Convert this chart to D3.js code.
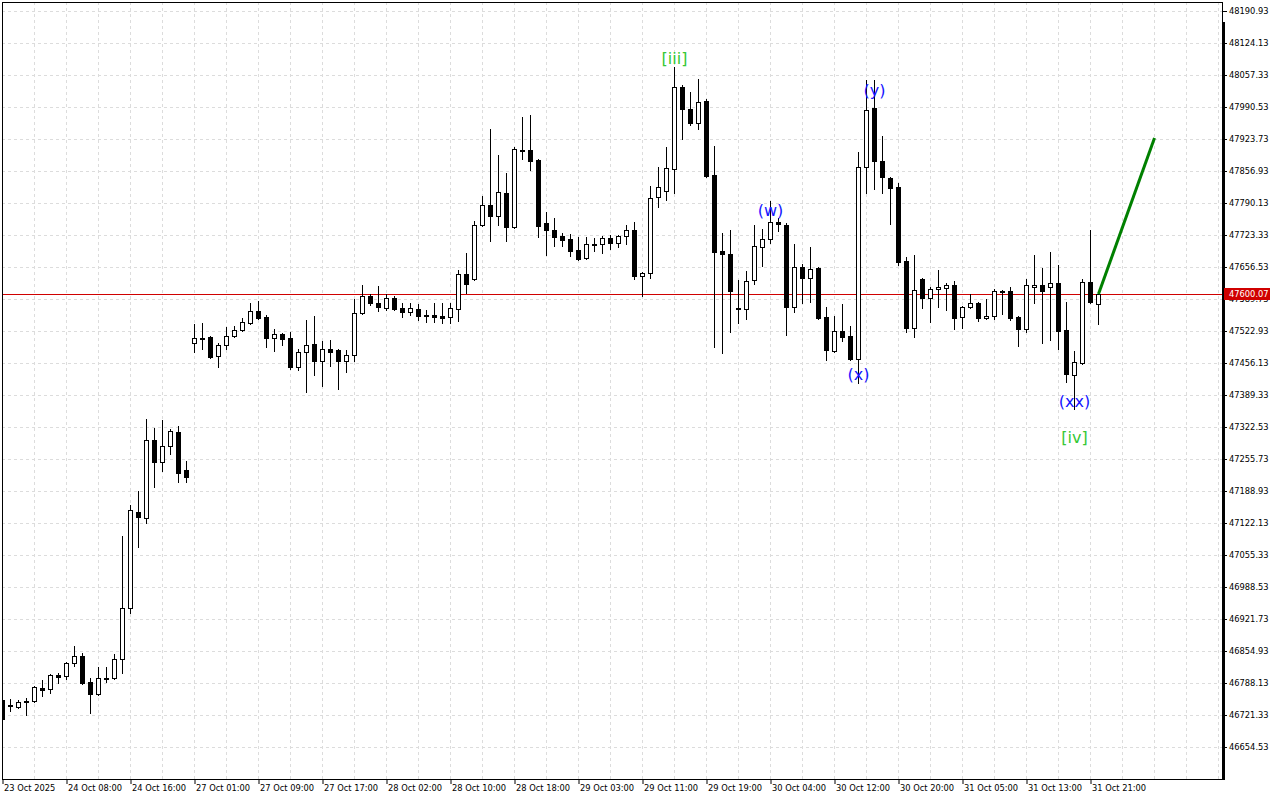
<!DOCTYPE html>
<html lang="en">
<head>
<meta charset="UTF-8">
<title>US30 H1 - wave count</title>
<script src="https://d3js.org/d3.v7.min.js"></script>
<style>
  body { margin: 0; background: #fff; }
  svg { display: block; }
  .axis text { font-family: "DejaVu Sans", sans-serif; font-size: 8.3px; fill: #000; }
  .axis line { stroke: #000; }
</style>
</head>
<body>
<svg width="1280" height="800"></svg>
<script>
// hourly bars
var opens = [
  46752.7, 46742.2, 46738.0, 46750.6, 46750.6, 46777.7, 46775.6, 46804.8, 46802.8, 46829.9,
  46844.5, 46790.2, 46765.2, 46798.6, 46798.6, 46838.2, 46944.7, 47145.1, 47132.6, 47295.4,
  47249.5, 47282.9, 47312.1, 47232.8, 47497.9, 47508.3, 47510.4, 47470.8, 47493.7, 47512.5,
  47525.0, 47539.6, 47564.7, 47552.2, 47508.3, 47516.7, 47508.3, 47447.8, 47479.1, 47495.8,
  47460.3, 47485.4, 47483.3, 47460.3, 47472.8, 47560.5, 47596.0, 47581.4, 47571.0, 47591.8,
  47571.0, 47562.6, 47568.9, 47556.3, 47556.3, 47554.3, 47552.2, 47568.9, 47641.9, 47631.5,
  47744.2, 47786.0, 47763.0, 47811.0, 47740.0, 47900.8, 47900.8, 47879.9, 47748.4, 47733.8,
  47721.3, 47715.0, 47692.0, 47675.3, 47704.6, 47704.6, 47717.1, 47706.6, 47721.3, 47733.8,
  47637.8, 47644.0, 47802.7, 47815.2, 47861.1, 48032.3, 47986.4, 47957.1, 48003.1, 47848.6,
  47689.9, 47683.7, 47571.0, 47568.9, 47629.4, 47698.3, 47715.0, 47750.5, 47744.2, 47573.0,
  47656.5, 47633.6, 47654.5, 47552.2, 47481.2, 47522.9, 47512.5, 47464.5, 47865.3, 47988.5,
  47877.8, 47842.3, 47823.5, 47669.1, 47529.2, 47631.5, 47591.8, 47610.6, 47612.7, 47619.0,
  47552.2, 47573.0, 47581.4, 47550.1, 47554.3, 47606.4, 47606.4, 47552.2, 47527.1, 47614.8,
  47619.0, 47614.8, 47623.1, 47525.0, 47431.1, 47456.1, 47625.2, 47579.3
];
var highs = [
  46754.7, 46754.7, 46752.7, 46756.8, 46781.9, 46794.4, 46806.9, 46809.0, 46832.0, 46865.4,
  46850.8, 46798.6, 46821.5, 46821.5, 46848.7, 47095.0, 47159.7, 47188.9, 47339.2, 47320.5,
  47337.2, 47318.4, 47324.6, 47251.6, 47537.6, 47539.6, 47512.5, 47497.9, 47531.3, 47533.4,
  47550.1, 47581.4, 47585.6, 47556.3, 47527.1, 47518.8, 47520.9, 47485.4, 47545.9, 47554.3,
  47502.1, 47504.2, 47485.4, 47483.3, 47589.7, 47619.0, 47600.2, 47616.9, 47600.2, 47596.0,
  47581.4, 47581.4, 47579.3, 47566.8, 47581.4, 47581.4, 47581.4, 47650.3, 47685.8, 47752.6,
  47804.7, 47944.6, 47890.3, 47852.8, 47907.0, 47969.7, 47973.8, 47882.0, 47771.4, 47758.8,
  47727.5, 47725.4, 47719.2, 47719.2, 47717.1, 47721.3, 47723.3, 47723.3, 47744.2, 47750.5,
  47646.1, 47825.6, 47865.3, 47907.0, 48074.0, 48036.5, 48021.9, 48049.0, 48007.2, 47909.1,
  47727.5, 47733.8, 47629.4, 47648.2, 47744.2, 47735.9, 47794.3, 47758.8, 47748.4, 47704.6,
  47662.8, 47698.3, 47656.5, 47573.0, 47554.3, 47579.3, 47533.4, 47896.6, 48046.9, 48046.9,
  47930.0, 47844.4, 47831.9, 47677.4, 47681.6, 47633.6, 47614.8, 47650.3, 47623.1, 47627.3,
  47575.1, 47600.2, 47583.5, 47589.7, 47610.6, 47608.5, 47614.8, 47554.3, 47631.5, 47681.6,
  47654.5, 47687.9, 47660.7, 47583.5, 47481.2, 47631.5, 47733.8, 47600.2
];
var lows = [
  46710.9, 46729.7, 46736.0, 46721.3, 46748.5, 46761.0, 46767.3, 46788.1, 46796.5, 46823.6,
  46786.1, 46725.5, 46763.1, 46790.2, 46796.5, 46809.0, 46934.3, 47072.0, 47122.1, 47197.3,
  47230.7, 47266.2, 47207.7, 47207.7, 47479.1, 47485.4, 47466.6, 47447.8, 47485.4, 47510.4,
  47522.9, 47537.6, 47548.0, 47489.5, 47481.2, 47493.7, 47443.6, 47441.5, 47395.6, 47431.1,
  47408.1, 47449.9, 47401.9, 47437.4, 47460.3, 47558.4, 47577.2, 47564.7, 47566.8, 47566.8,
  47552.2, 47556.3, 47545.9, 47541.7, 47541.7, 47539.6, 47539.6, 47543.8, 47602.3, 47629.4,
  47742.1, 47710.8, 47744.2, 47710.8, 47738.0, 47882.0, 47859.0, 47719.2, 47681.6, 47700.4,
  47700.4, 47679.5, 47671.2, 47673.2, 47689.9, 47685.8, 47694.1, 47698.3, 47704.6, 47631.5,
  47596.0, 47633.6, 47781.8, 47796.4, 47811.0, 47923.7, 47953.0, 47944.6, 47844.4, 47489.5,
  47477.0, 47520.9, 47539.6, 47548.0, 47621.1, 47658.6, 47706.6, 47731.7, 47514.6, 47562.6,
  47581.4, 47583.5, 47548.0, 47462.4, 47479.1, 47502.1, 47462.4, 47414.4, 47811.0, 47819.4,
  47811.0, 47746.3, 47660.7, 47520.9, 47510.4, 47571.0, 47541.7, 47573.0, 47566.8, 47527.1,
  47529.2, 47571.0, 47543.8, 47548.0, 47548.0, 47558.4, 47545.9, 47491.6, 47520.9, 47581.4,
  47497.9, 47504.2, 47485.4, 47416.5, 47360.1, 47454.1, 47581.4, 47537.6
];
var closes = [
  46713.0, 46740.1, 46748.5, 46748.5, 46779.8, 46773.5, 46804.8, 46800.7, 46829.9, 46844.5,
  46788.1, 46765.2, 46798.6, 46796.5, 46838.2, 46944.7, 47149.3, 47134.7, 47295.4, 47249.5,
  47282.9, 47314.2, 47226.5, 47218.2, 47508.3, 47506.2, 47468.7, 47493.7, 47512.5, 47525.0,
  47541.7, 47564.7, 47550.1, 47508.3, 47516.7, 47506.2, 47447.8, 47479.1, 47493.7, 47460.3,
  47485.4, 47479.1, 47460.3, 47472.8, 47560.5, 47596.0, 47581.4, 47573.0, 47591.8, 47568.9,
  47562.6, 47571.0, 47554.3, 47554.3, 47552.2, 47550.1, 47571.0, 47641.9, 47621.1, 47744.2,
  47786.0, 47763.0, 47813.1, 47740.0, 47902.9, 47898.7, 47877.8, 47742.1, 47733.8, 47719.2,
  47712.9, 47689.9, 47673.2, 47704.6, 47702.5, 47717.1, 47706.6, 47721.3, 47733.8, 47637.8,
  47644.0, 47800.6, 47823.5, 47863.2, 48032.3, 47986.4, 47957.1, 48001.0, 47846.5, 47687.9,
  47683.7, 47606.4, 47568.9, 47627.3, 47700.4, 47715.0, 47750.5, 47746.3, 47573.0, 47656.5,
  47633.6, 47652.4, 47550.1, 47483.3, 47522.9, 47510.4, 47464.5, 47865.3, 47984.3, 47877.8,
  47844.4, 47821.5, 47667.0, 47529.2, 47608.5, 47591.8, 47610.6, 47614.8, 47619.0, 47550.1,
  47573.0, 47581.4, 47550.1, 47554.3, 47606.4, 47604.4, 47550.1, 47527.1, 47619.0, 47619.0,
  47606.4, 47623.1, 47522.9, 47433.2, 47458.2, 47625.2, 47583.5, 47600.07
];

// one label every 8 bars
var timeLabels = [
  "23 Oct 2025", "24 Oct 08:00", "24 Oct 16:00", "27 Oct 01:00", "27 Oct 09:00", "27 Oct 17:00",
  "28 Oct 02:00", "28 Oct 10:00", "28 Oct 18:00", "29 Oct 03:00", "29 Oct 11:00", "29 Oct 19:00",
  "30 Oct 04:00", "30 Oct 12:00", "30 Oct 20:00", "31 Oct 05:00", "31 Oct 13:00", "31 Oct 21:00"
];
var priceTicks = [
  48190.93, 48124.13, 48057.33, 47990.53, 47923.73, 47856.93, 47790.13, 47723.33,
  47656.53, 47589.73, 47522.93, 47456.13, 47389.33, 47322.53, 47255.73, 47188.93,
  47122.13, 47055.33, 46988.53, 46921.73, 46854.93, 46788.13, 46721.33, 46654.53
];
var bidPrice = 47600.07;

// wave marks
var waveText = ["[iii]", "(w)", "(x)", "(y)", "(xx)", "[iv]"];
var waveBar = [84, 96, 107, 109, 134, 134];
var wavePrice = [48092.8, 47775.5, 47433.2, 48026.0, 47376.8, 47301.7];
var waveColor = ["#35c835", "#1414ff", "#1414ff", "#1414ff", "#1414ff", "#35c835"];

// forecast line
var targetBar = [137, 144];
var targetPrice = [47600.07, 47926.0];

function draw() {
  var svg = d3.select("svg");
  var plotLeft = 2, plotRight = 1222, plotTop = 2, plotBottom = 779;

  var x = d3.scaleLinear().domain([0, 137]).range([2.5, 1098.5]);
  var y = d3.scaleLinear().domain([46654.53, 48190.93]).range([747, 11]);

  svg.append("clipPath").attr("id", "plot")
    .append("rect").attr("x", plotLeft).attr("y", plotTop)
    .attr("width", plotRight - plotLeft).attr("height", plotBottom - plotTop);

  // grid
  var grid = svg.append("g").attr("clip-path", "url(#plot)")
    .attr("stroke", "#dcdcdc").attr("stroke-dasharray", "3,3");
  grid.selectAll("line.h").data(priceTicks).enter().append("line")
    .attr("x1", plotLeft).attr("x2", plotRight)
    .attr("y1", function(d) { return Math.round(y(d)) + 0.5; })
    .attr("y2", function(d) { return Math.round(y(d)) + 0.5; });
  grid.selectAll("line.v").data(d3.range(4, 153, 4)).enter().append("line")
    .attr("x1", function(d) { return x(d); }).attr("x2", function(d) { return x(d); })
    .attr("y1", plotTop).attr("y2", plotBottom);

  // bid line
  svg.append("line")
    .attr("x1", plotLeft).attr("x2", plotRight)
    .attr("y1", Math.round(y(bidPrice)) + 0.5).attr("y2", Math.round(y(bidPrice)) + 0.5)
    .attr("stroke", "#d00000");

  // candles
  var bars = d3.range(opens.length).map(function(i) {
    return { i: i, o: opens[i], h: highs[i], l: lows[i], c: closes[i] };
  });
  var candles = svg.append("g").attr("clip-path", "url(#plot)")
    .selectAll("g").data(bars).enter().append("g");

  candles.append("line")
    .attr("x1", function(d) { return x(d.i); })
    .attr("x2", function(d) { return x(d.i); })
    .attr("y1", function(d) { return Math.round(y(d.h)); })
    .attr("y2", function(d) { return Math.round(y(d.l)) + 1; })
    .attr("stroke", "#000");

  candles.append("rect")
    .attr("x", function(d) { return x(d.i) - 2; })
    .attr("y", function(d) { return Math.round(y(Math.max(d.o, d.c))) + 0.5; })
    .attr("width", 4)
    .attr("height", function(d) {
      return Math.round(y(Math.min(d.o, d.c))) - Math.round(y(Math.max(d.o, d.c)));
    })
    .attr("fill", function(d) { return d.c >= d.o ? "#fff" : "#000"; })
    .attr("stroke", "#000");

  // forecast
  svg.append("line")
    .attr("x1", x(targetBar[0])).attr("y1", y(targetPrice[0]))
    .attr("x2", x(targetBar[1])).attr("y2", y(targetPrice[1]))
    .attr("stroke", "#008000").attr("stroke-width", 3);

  // wave labels
  svg.append("g").selectAll("text").data(waveText).enter().append("text")
    .attr("x", function(d, i) { return x(waveBar[i]); })
    .attr("y", function(d, i) { return y(wavePrice[i]); })
    .attr("dy", "0.35em")
    .attr("text-anchor", "middle")
    .attr("font-family", "DejaVu Sans, sans-serif")
    .attr("font-size", "16px")
    .attr("fill", function(d, i) { return waveColor[i]; })
    .text(function(d) { return d; });

  // frame
  svg.append("rect")
    .attr("x", plotLeft + 0.5).attr("y", plotTop + 0.5)
    .attr("width", plotRight - plotLeft).attr("height", plotBottom - plotTop)
    .attr("fill", "none").attr("stroke", "#000");
  svg.append("line")
    .attr("x1", plotRight + 1.5).attr("x2", plotRight + 1.5)
    .attr("y1", 22).attr("y2", plotBottom + 1)
    .attr("stroke", "#000").attr("stroke-width", 3);

  // price axis
  var yAxis = svg.append("g").attr("class", "axis")
    .attr("transform", "translate(" + (plotRight + 1) + ",0)")
    .call(d3.axisRight(y).tickValues(priceTicks).tickSize(4).tickPadding(2)
      .tickFormat(d3.format(".2f")));
  yAxis.select(".domain").remove();

  // bid label on axis
  var by = Math.round(y(bidPrice));
  svg.append("rect")
    .attr("x", plotRight + 2).attr("y", by - 6)
    .attr("width", 46).attr("height", 12)
    .attr("fill", "#d00000");
  svg.append("text")
    .attr("x", plotRight + 7).attr("y", by).attr("dy", "0.35em")
    .attr("font-family", "DejaVu Sans, sans-serif").attr("font-size", "8.3px")
    .attr("fill", "#fff")
    .text(bidPrice.toFixed(2));

  // time axis
  var xAxis = svg.append("g").attr("class", "axis")
    .attr("transform", "translate(0," + plotBottom + ")")
    .call(d3.axisBottom(x).tickValues(d3.range(0, 137, 8)).tickSize(5).tickPadding(1)
      .tickFormat(function(d, i) { return timeLabels[i]; }));
  xAxis.select(".domain").remove();
  xAxis.selectAll("text").attr("text-anchor", "start").attr("x", 1);
}

draw();
</script>
</body>
</html>
